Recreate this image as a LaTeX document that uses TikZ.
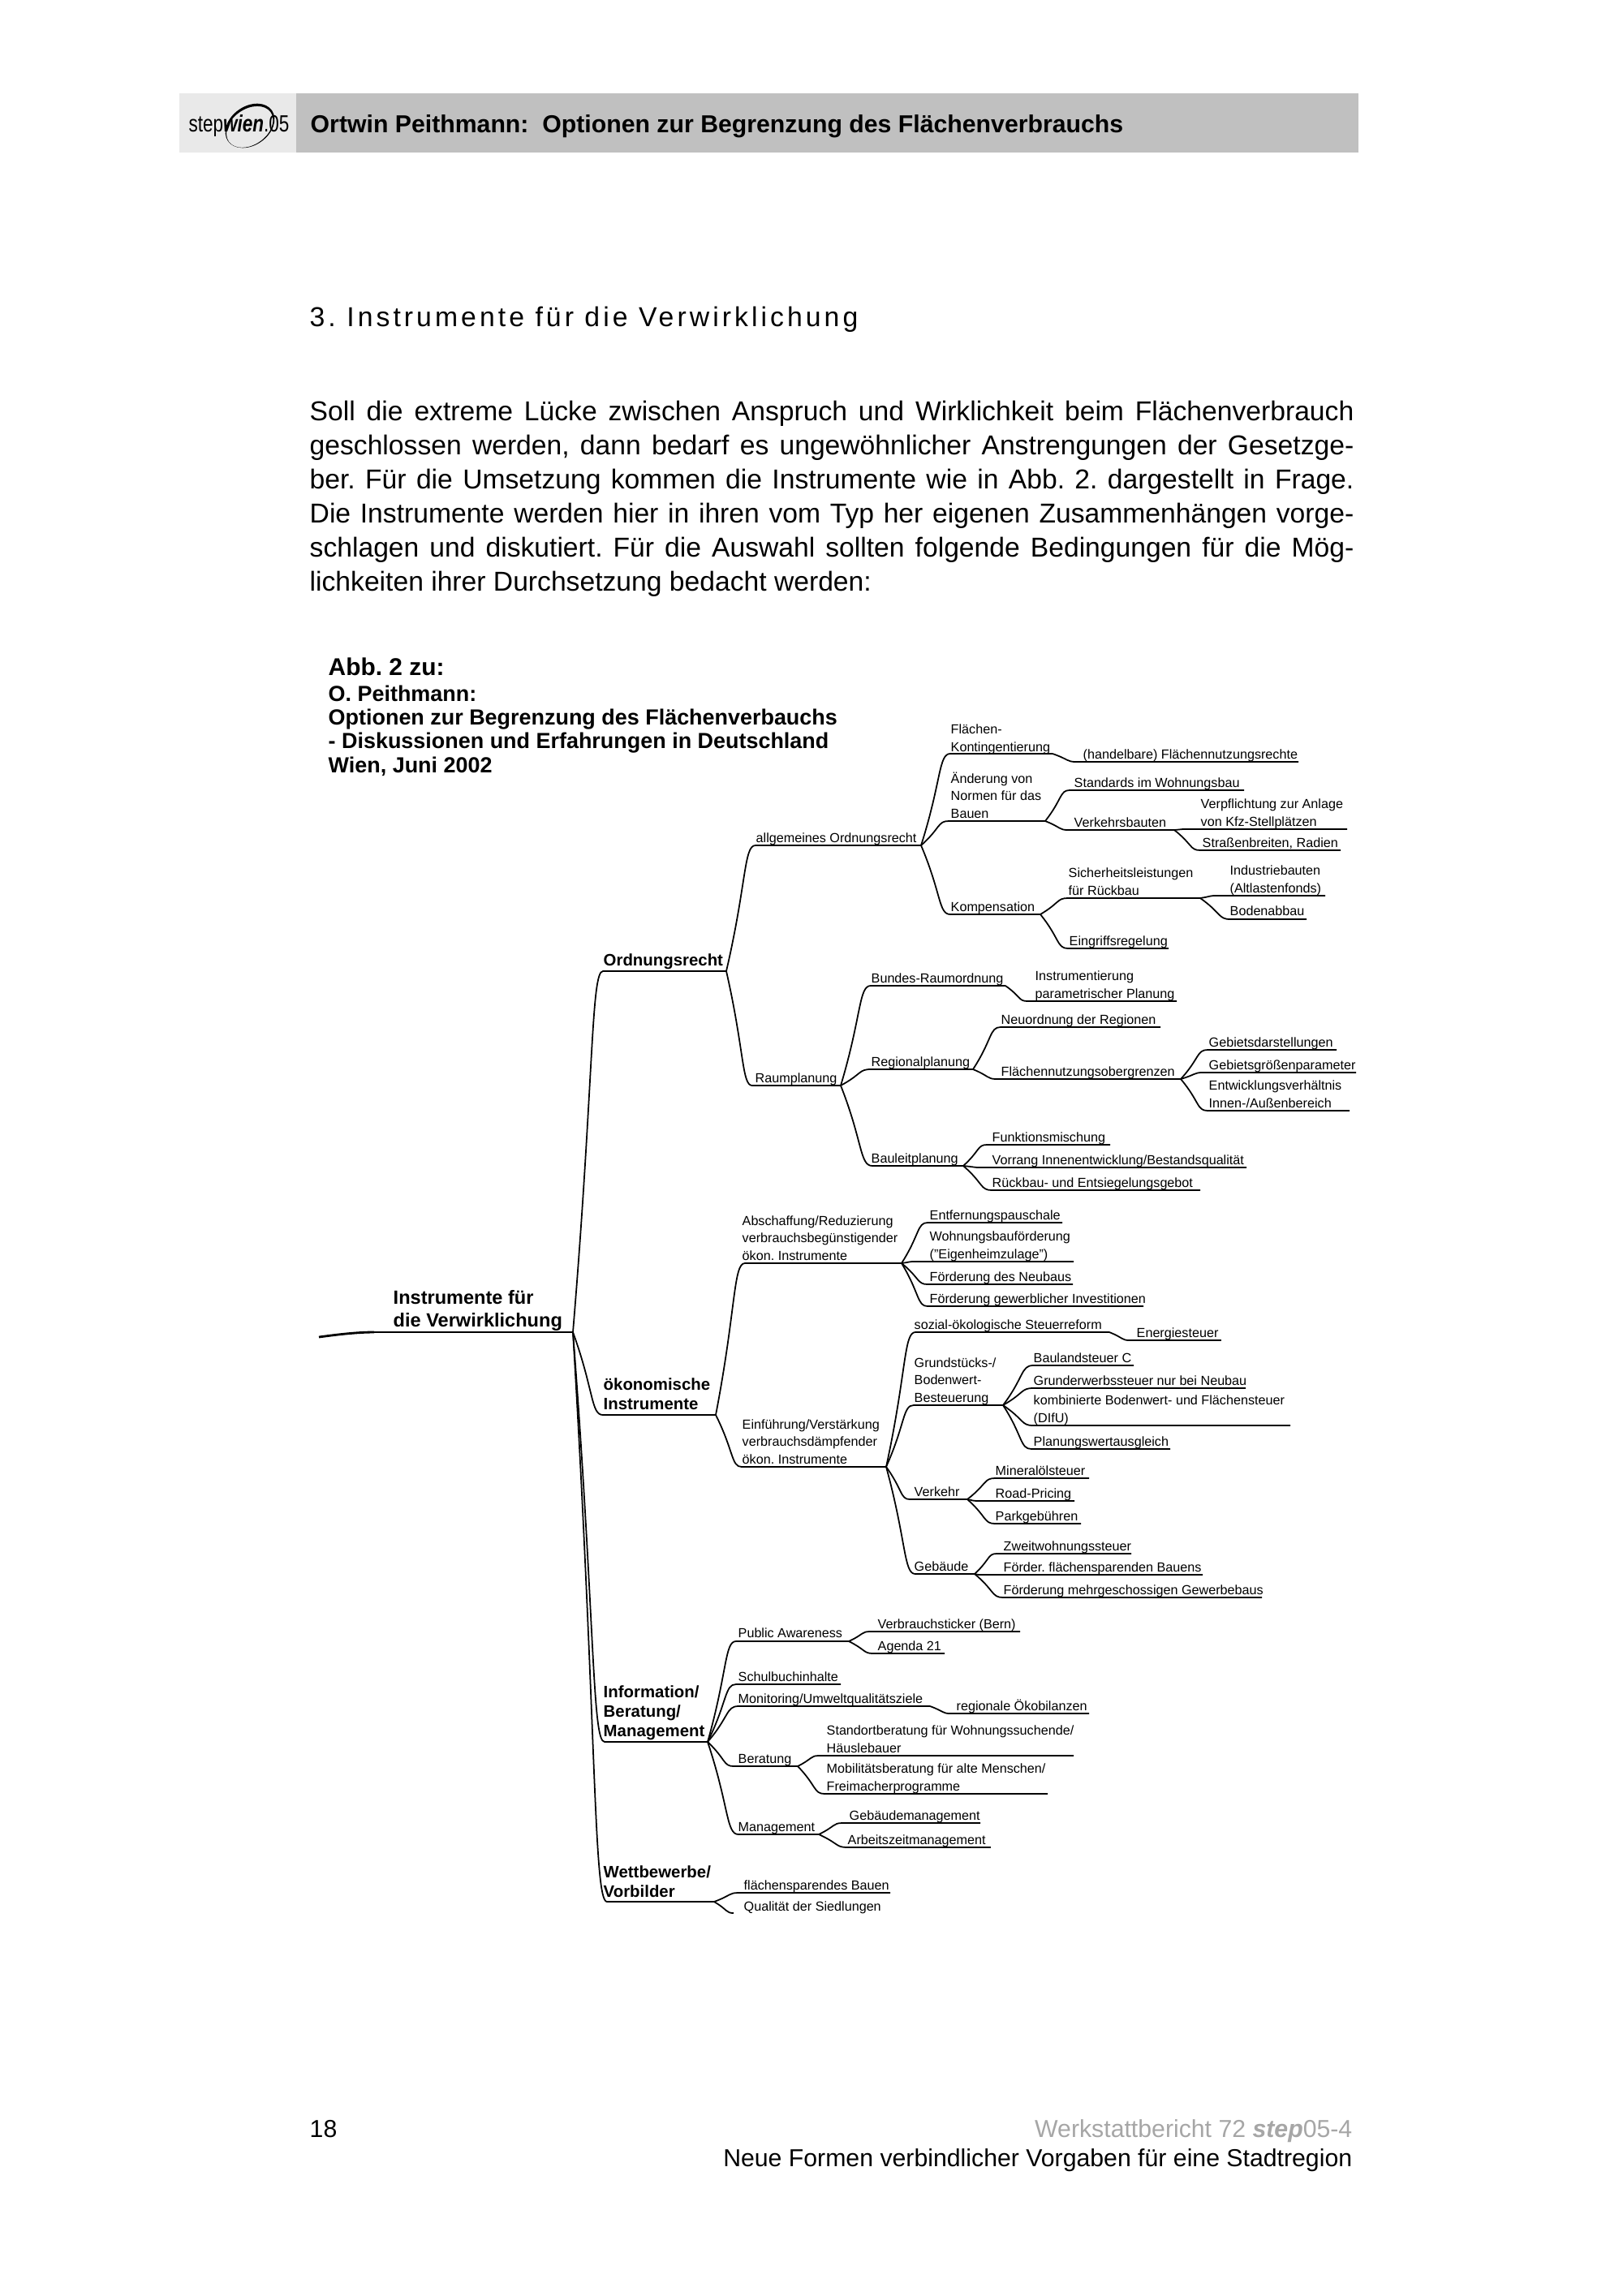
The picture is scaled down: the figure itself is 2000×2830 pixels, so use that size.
\documentclass[tikz,border=0pt]{standalone}
\usepackage{fontspec}
\setmainfont{Liberation Sans}
\newfontfamily\headfont[LetterSpace=12]{Liberation Sans}
\usetikzlibrary{calc}
\frenchspacing

\definecolor{barGrey}{HTML}{C0C0C0}
\definecolor{logoGrey}{HTML}{E9E9E9}
\definecolor{footGrey}{HTML}{A6A6A6}

\tikzset{
    twig/.style={line width=0.5pt, line join=round, to path={.. controls ($(\tikztostart)!.7!(\tikztotarget)$) and ($(\tikztotarget)!.4!(\tikztostart |- \tikztotarget)$) .. (\tikztotarget)}},
    leaf/.style={anchor=base west, align=left, inner sep=0pt, font=\fontsize{4.6}{6.1}\selectfont},
    limb/.style={anchor=base west, align=left, inner sep=0pt, font=\fontsize{5.8}{6.8}\selectfont\bfseries},
    bodytext/.style={anchor=base west, inner sep=0pt, font=\fontsize{9.57}{11.95}\selectfont},
    foottext/.style={anchor=base east, inner sep=0pt, font=\fontsize{8.6}{11}\selectfont}
}

\begin{document}
\begin{tikzpicture}[x=0.01cm, y=-0.01cm]

    \useasboundingbox (0,0) rectangle (2000,2830);

    % Draw the header bar
    \fill[barGrey] (365,115) rectangle (1674,188);
    \fill[logoGrey] (221,115) rectangle (365,188);
    \fill[even odd rule, rotate around={35:(308,155)}] (308,155) ellipse [x radius=33, y radius=24] (307,156) ellipse [x radius=31.5, y radius=22];
    \node[anchor=base west, inner sep=0pt, font=\fontsize{8.2}{9}\selectfont] (logo) at (232,162) {\scalebox{0.78}[1]{step\textbf{\textit{wien}}.05}};
    \node[anchor=base west, inner sep=0pt, font=\fontsize{8.6}{11}\selectfont\bfseries] (header) at (382,163) {Ortwin Peithmann:\ \ Optionen zur Begrenzung des Flächenverbrauchs};

    % Draw the heading and the paragraph
    \node[anchor=base west, inner sep=0pt, font=\fontsize{9.6}{11}\selectfont\headfont] (heading) at (381,402) {3. Instrumente für die Verwirklichung};
    \node[bodytext, text width=12.86cm, align=justify] (para) at (381,518) {Soll die extreme Lücke zwischen Anspruch und Wirklichkeit beim Flächenverbrauch\linebreak
    geschlossen werden, dann bedarf es ungewöhnlicher Anstrengungen der Gesetzge-\linebreak
    ber. Für die Umsetzung kommen die Instrumente wie in Abb. 2. dargestellt in Frage.\linebreak
    Die Instrumente werden hier in ihren vom Typ her eigenen Zusammenhängen vorge-\linebreak
    schlagen und diskutiert. Für die Auswahl sollten folgende Bedingungen für die Mög-\linebreak
    lichkeiten ihrer Durchsetzung bedacht werden:};

    % Draw the title of the figure
    \node[anchor=base west, inner sep=0pt, font=\fontsize{8.5}{9}\selectfont\bfseries] (abb) at (404,832) {Abb. 2 zu:};
    \node[anchor=base west, align=left, inner sep=0pt, font=\fontsize{7.66}{8.25}\selectfont\bfseries] (title) at (404,952) {O. Peithmann:\\Optionen zur Begrenzung des Flächenverbauchs\\- Diskussionen und Erfahrungen in Deutschland\\Wien, Juni 2002};

    % Draw the root
    \coordinate (tail) at (393,1648);
    \coordinate (root) at (461,1642);
    \coordinate (rootE) at (706,1642);
    \draw[line width=0.8pt] (tail) .. controls (415,1645) and (440,1642) .. (root);
    \draw[twig] (root) -- (rootE);
    \node[limb, font=\fontsize{6.7}{7.7}\selectfont\bfseries] (rootT) at (484,1635) {Instrumente für\\die Verwirklichung};

    % Ordnungsrecht
    \coordinate (ord) at (743,1197); \coordinate (ordE) at (895,1197);
    \draw[twig] (rootE) to (ord) -- (ordE);
    \node[limb] (ordT) at (743,1190) {Ordnungsrecht};

    % allgemeines Ordnungsrecht
    \coordinate (allg) at (931,1042); \coordinate (allgE) at (1135,1042);
    \draw[twig] (ordE) to (allg) -- (allgE);
    \node[leaf] (allgT) at (931,1038) {allgemeines Ordnungsrecht};

    \coordinate (kont) at (1171,929); \coordinate (kontE) at (1297,929);
    \draw[twig] (allgE) to (kont) -- (kontE);
    \node[leaf] (kontT) at (1171,926) {Flächen-\\Kontingentierung};

    \coordinate (hand) at (1326,939); \coordinate (handE) at (1600,939);
    \draw[twig] (kontE) to (hand) -- (handE);
    \node[leaf] (handT) at (1334,935) {(handelbare) Flächennutzungsrechte};

    \coordinate (norm) at (1169,1012); \coordinate (normE) at (1288,1012);
    \draw[twig] (allgE) to (norm) -- (normE);
    \node[leaf] (normT) at (1171,1008) {Änderung von\\Normen für das\\Bauen};

    \coordinate (stand) at (1318,974); \coordinate (standE) at (1533,974);
    \draw[twig] (normE) to (stand) -- (standE);
    \node[leaf] (standT) at (1323,970) {Standards im Wohnungsbau};

    \coordinate (verk) at (1316,1023); \coordinate (verkE) at (1447,1023);
    \draw[twig] (normE) to (verk) -- (verkE);
    \node[leaf] (verkT) at (1323,1019) {Verkehrsbauten};

    \coordinate (verpf) at (1460,1022); \coordinate (verpfE) at (1660,1022);
    \draw[twig] (verkE) to (verpf) -- (verpfE);
    \node[leaf] (verpfT) at (1479,1018) {Verpflichtung zur Anlage\\von Kfz-Stellplätzen};

    \coordinate (str) at (1479,1048); \coordinate (strE) at (1652,1048);
    \draw[twig] (verkE) to (str) -- (strE);
    \node[leaf] (strT) at (1481,1044) {Straßenbreiten, Radien};

    \coordinate (komp) at (1171,1127); \coordinate (kompE) at (1282,1127);
    \draw[twig] (allgE) to (komp) -- (kompE);
    \node[leaf] (kompT) at (1171,1123) {Kompensation};

    \coordinate (sich) at (1316,1107); \coordinate (sichE) at (1479,1107);
    \draw[twig] (kompE) to (sich) -- (sichE);
    \node[leaf] (sichT) at (1316,1103) {Sicherheitsleistungen\\für Rückbau};

    \coordinate (ind) at (1498,1104); \coordinate (indE) at (1633,1104);
    \draw[twig] (sichE) to (ind) -- (indE);
    \node[leaf] (indT) at (1515,1100) {Industriebauten\\(Altlastenfonds)};

    \coordinate (bod) at (1516,1133); \coordinate (bodE) at (1610,1133);
    \draw[twig] (sichE) to (bod) -- (bodE);
    \node[leaf] (bodT) at (1515,1128) {Bodenabbau};

    \coordinate (eing) at (1316,1169); \coordinate (eingE) at (1440,1169);
    \draw[twig] (kompE) to (eing) -- (eingE);
    \node[leaf] (eingT) at (1317,1165) {Eingriffsregelung};

    % Raumplanung
    \coordinate (raum) at (927,1338); \coordinate (raumE) at (1036,1338);
    \draw[twig] (ordE) to (raum) -- (raumE);
    \node[leaf] (raumT) at (930,1334) {Raumplanung};

    \coordinate (bund) at (1073,1215); \coordinate (bundE) at (1239,1215);
    \draw[twig] (raumE) to (bund) -- (bundE);
    \node[leaf] (bundT) at (1073,1211) {Bundes-Raumordnung};

    \coordinate (instr) at (1266,1234); \coordinate (instrE) at (1450,1234);
    \draw[twig] (bundE) to (instr) -- (instrE);
    \node[leaf] (instrT) at (1275,1230) {Instrumentierung\\parametrischer Planung};

    \coordinate (reg) at (1073,1318); \coordinate (regE) at (1199,1318);
    \draw[twig] (raumE) to (reg) -- (regE);
    \node[leaf] (regT) at (1073,1314) {Regionalplanung};

    \coordinate (neu) at (1233,1266); \coordinate (neuE) at (1430,1266);
    \draw[twig] (regE) to (neu) -- (neuE);
    \node[leaf] (neuT) at (1233,1262) {Neuordnung der Regionen};

    \coordinate (fln) at (1228,1330); \coordinate (flnE) at (1455,1330);
    \draw[twig] (regE) to (fln) -- (flnE);
    \node[leaf] (flnT) at (1233,1326) {Flächennutzungsobergrenzen};

    \coordinate (gdar) at (1488,1294); \coordinate (gdarE) at (1647,1294);
    \draw[twig] (flnE) to (gdar) -- (gdarE);
    \node[leaf] (gdarT) at (1489,1290) {Gebietsdarstellungen};

    \coordinate (ggr) at (1482,1322); \coordinate (ggrE) at (1671,1322);
    \draw[twig] (flnE) to (ggr) -- (ggrE);
    \node[leaf] (ggrT) at (1489,1318) {Gebietsgrößenparameter};

    \coordinate (entw) at (1488,1369); \coordinate (entwE) at (1663,1369);
    \draw[twig] (flnE) to (entw) -- (entwE);
    \node[leaf] (entwT) at (1489,1365) {Entwicklungsverhältnis\\Innen-/Außenbereich};

    \coordinate (bau) at (1075,1437); \coordinate (bauE) at (1187,1437);
    \draw[twig] (raumE) to (bau) -- (bauE);
    \node[leaf] (bauT) at (1073,1433) {Bauleitplanung};

    \coordinate (funk) at (1216,1411); \coordinate (funkE) at (1368,1411);
    \draw[twig] (bauE) to (funk) -- (funkE);
    \node[leaf] (funkT) at (1222,1407) {Funktionsmischung};

    \coordinate (vorr) at (1208,1439); \coordinate (vorrE) at (1536,1439);
    \draw[twig] (bauE) to (vorr) -- (vorrE);
    \node[leaf] (vorrT) at (1222,1435) {Vorrang Innenentwicklung/Bestandsqualität};

    \coordinate (rueck) at (1222,1467); \coordinate (rueckE) at (1479,1467);
    \draw[twig] (bauE) to (rueck) -- (rueckE);
    \node[leaf] (rueckT) at (1222,1463) {Rückbau- und Entsiegelungsgebot};

    % ökonomische Instrumente
    \coordinate (oek) at (743,1744); \coordinate (oekE) at (882,1744);
    \draw[twig] (rootE) to (oek) -- (oekE);
    \node[limb] (oekT) at (743,1737) {ökonomische\\Instrumente};

    \coordinate (absch) at (918,1557); \coordinate (abschE) at (1111,1557);
    \draw[twig] (oekE) to (absch) -- (abschE);
    \node[leaf] (abschT) at (914,1553) {Abschaffung/Reduzierung\\verbrauchsbegünstigender\\ökon. Instrumente};

    \coordinate (entf) at (1143,1507); \coordinate (entfE) at (1309,1507);
    \draw[twig] (abschE) to (entf) -- (entfE);
    \node[leaf] (entfT) at (1145,1503) {Entfernungspauschale};

    \coordinate (wohn) at (1126,1555); \coordinate (wohnE) at (1323,1555);
    \draw[twig] (abschE) to (wohn) -- (wohnE);
    \node[leaf] (wohnT) at (1145,1551) {Wohnungsbauförderung\\("Eigenheimzulage")};

    \coordinate (neub) at (1143,1583); \coordinate (neubE) at (1322,1583);
    \draw[twig] (abschE) to (neub) -- (neubE);
    \node[leaf] (neubT) at (1145,1579) {Förderung des Neubaus};

    \coordinate (gew) at (1143,1610); \coordinate (gewE) at (1409,1610);
    \draw[twig] (abschE) to (gew) -- (gewE);
    \node[leaf] (gewT) at (1145,1606) {Förderung gewerblicher Investitionen};

    \coordinate (einf) at (914,1808); \coordinate (einfE) at (1092,1808);
    \draw[twig] (oekE) to (einf) -- (einfE);
    \node[leaf] (einfT) at (914,1804) {Einführung/Verstärkung\\verbrauchsdämpfender\\ökon. Instrumente};

    \coordinate (soz) at (1128,1642); \coordinate (sozE) at (1367,1642);
    \draw[twig] (einfE) to (soz) -- (sozE);
    \node[leaf] (sozT) at (1126,1638) {sozial-ökologische Steuerreform};

    \coordinate (ener) at (1392,1652); \coordinate (enerE) at (1505,1652);
    \draw[twig] (sozE) to (ener);
    \draw[line width=0.8pt] (ener) -- (enerE);
    \node[leaf] (enerT) at (1400,1648) {Energiesteuer};

    \coordinate (grund) at (1126,1732); \coordinate (grundE) at (1236,1732);
    \draw[twig] (einfE) to (grund) -- (grundE);
    \node[leaf] (grundT) at (1126,1728) {Grundstücks-/\\Bodenwert-\\Besteuerung};

    \coordinate (baul) at (1273,1683); \coordinate (baulE) at (1397,1683);
    \draw[twig] (grundE) to (baul) -- (baulE);
    \node[leaf] (baulT) at (1273,1679) {Baulandsteuer C};

    \coordinate (gerw) at (1273,1711); \coordinate (gerwE) at (1535,1711);
    \draw[twig] (grundE) to (gerw) -- (gerwE);
    \node[leaf] (gerwT) at (1273,1707) {Grunderwerbssteuer nur bei Neubau};

    \coordinate (komb) at (1273,1757); \coordinate (kombE) at (1590,1757);
    \draw[twig] (grundE) to (komb) -- (kombE);
    \node[leaf] (kombT) at (1273,1753) {kombinierte Bodenwert- und Flächensteuer\\(DIfU)};

    \coordinate (plan) at (1271,1786); \coordinate (planE) at (1442,1786);
    \draw[twig] (grundE) to (plan) -- (planE);
    \node[leaf] (planT) at (1273,1782) {Planungswertausgleich};

    \coordinate (vehr) at (1121,1848); \coordinate (vehrE) at (1192,1848);
    \draw[twig] (einfE) to (vehr) -- (vehrE);
    \node[leaf] (vehrT) at (1126,1844) {Verkehr};

    \coordinate (min) at (1226,1822); \coordinate (minE) at (1342,1822);
    \draw[twig] (vehrE) to (min) -- (minE);
    \node[leaf] (minT) at (1226,1818) {Mineralölsteuer};

    \coordinate (road) at (1203,1850); \coordinate (roadE) at (1324,1850);
    \draw[twig] (vehrE) to (road) -- (roadE);
    \node[leaf] (roadT) at (1226,1846) {Road-Pricing};

    \coordinate (park) at (1226,1878); \coordinate (parkE) at (1332,1878);
    \draw[twig] (vehrE) to (park) -- (parkE);
    \node[leaf] (parkT) at (1226,1874) {Parkgebühren};

    \coordinate (geb) at (1128,1940); \coordinate (gebE) at (1201,1940);
    \draw[twig] (einfE) to (geb) -- (gebE);
    \node[leaf] (gebT) at (1126,1936) {Gebäude};

    \coordinate (zweit) at (1228,1915); \coordinate (zweitE) at (1394,1915);
    \draw[twig] (gebE) to (zweit) -- (zweitE);
    \node[leaf] (zweitT) at (1236,1911) {Zweitwohnungssteuer};

    \coordinate (foerd) at (1207,1941); \coordinate (foerdE) at (1482,1941);
    \draw[twig] (gebE) to (foerd) -- (foerdE);
    \node[leaf] (foerdT) at (1236,1937) {Förder. flächensparenden Bauens};

    \coordinate (mehr) at (1236,1969); \coordinate (mehrE) at (1555,1969);
    \draw[twig] (gebE) to (mehr) -- (mehrE);
    \node[leaf] (mehrT) at (1236,1965) {Förderung mehrgeschossigen Gewerbebaus};

    % Information/Beratung/Management
    \coordinate (info) at (745,2147); \coordinate (infoE) at (872,2147);
    \draw[twig] (rootE) to (info) -- (infoE);
    \node[limb] (infoT) at (743,2140) {Information/\\Beratung/\\Management};

    \coordinate (pub) at (907,2023); \coordinate (pubE) at (1046,2023);
    \draw[twig] (infoE) to (pub) -- (pubE);
    \node[leaf] (pubT) at (909,2018) {Public Awareness};

    \coordinate (stick) at (1072,2011); \coordinate (stickE) at (1257,2011);
    \draw[twig] (pubE) to (stick) -- (stickE);
    \node[leaf] (stickT) at (1081,2007) {Verbrauchsticker (Bern)};

    \coordinate (agen) at (1076,2038); \coordinate (agenE) at (1164,2038);
    \draw[twig] (pubE) to (agen) -- (agenE);
    \node[leaf] (agenT) at (1081,2034) {Agenda 21};

    \coordinate (schul) at (907,2076); \coordinate (schulE) at (1036,2076);
    \draw[twig] (infoE) to (schul) -- (schulE);
    \node[leaf] (schulT) at (909,2072) {Schulbuchinhalte};

    \coordinate (moni) at (910,2103); \coordinate (moniE) at (1146,2103);
    \draw[twig] (infoE) to (moni) -- (moniE);
    \node[leaf] (moniT) at (909,2099) {Monitoring/Umweltqualitätsziele};

    \coordinate (oeko) at (1171,2112); \coordinate (oekoE) at (1342,2112);
    \draw[twig] (moniE) to (oeko) -- (oekoE);
    \node[leaf] (oekoT) at (1178,2108) {regionale Ökobilanzen};

    \coordinate (ber) at (904,2177); \coordinate (berE) at (983,2177);
    \draw[twig] (infoE) to (ber) -- (berE);
    \node[leaf] (berT) at (909,2173) {Beratung};

    \coordinate (stort) at (1009,2164); \coordinate (stortE) at (1323,2164);
    \draw[twig] (berE) to (stort) -- (stortE);
    \node[leaf] (stortT) at (1018,2160) {Standortberatung für Wohnungssuchende/\\Häuslebauer};

    \coordinate (mob) at (1016,2211); \coordinate (mobE) at (1291,2211);
    \draw[twig] (berE) to (mob) -- (mobE);
    \node[leaf] (mobT) at (1018,2207) {Mobilitätsberatung für alte Menschen/\\Freimacherprogramme};

    \coordinate (mgmt) at (910,2261); \coordinate (mgmtE) at (1009,2261);
    \draw[twig] (infoE) to (mgmt) -- (mgmtE);
    \node[leaf] (mgmtT) at (909,2257) {Management};

    \coordinate (gmgmt) at (1038,2247); \coordinate (gmgmtE) at (1208,2247);
    \draw[twig] (mgmtE) to (gmgmt) -- (gmgmtE);
    \node[leaf] (gmgmtT) at (1046,2243) {Gebäudemanagement};

    \coordinate (azeit) at (1044,2277); \coordinate (azeitE) at (1221,2277);
    \draw[twig] (mgmtE) to (azeit);
    \draw[line width=0.8pt] (azeit) -- (azeitE);
    \node[leaf] (azeitT) at (1044,2273) {Arbeitszeitmanagement};

    % Wettbewerbe/Vorbilder
    \coordinate (wett) at (748,2344); \coordinate (wettE) at (880,2344);
    \draw[twig] (rootE) to (wett) -- (wettE);
    \node[limb] (wettT) at (743,2338) {Wettbewerbe/\\Vorbilder};

    \coordinate (fsp) at (910,2333); \coordinate (fspE) at (1097,2333);
    \draw[twig] (wettE) to (fsp) -- (fspE);
    \node[leaf] (fspT) at (916,2329) {flächensparendes Bauen};

    \coordinate (qual) at (904,2358);
    \draw[twig] (wettE) to (qual);
    \node[leaf] (qualT) at (916,2355) {Qualität der Siedlungen};

    % Draw the footer
    \node[foottext, anchor=base west] (page) at (381,2634) {18};
    \node[foottext, text=footGrey] (foot) at (1667,2634) {Werkstattbericht 72 \textbf{\textit{step}}05-4};
    \node[foottext] (footb) at (1667,2670) {Neue Formen verbindlicher Vorgaben für eine Stadtregion};

\end{tikzpicture}
\end{document}
